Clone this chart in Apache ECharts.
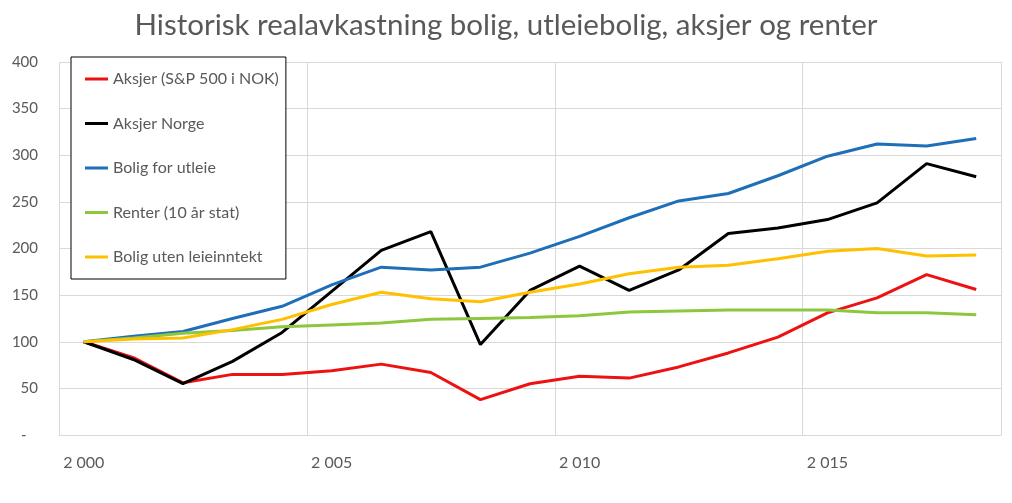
<!DOCTYPE html>
<html>
<head>
<meta charset="utf-8">
<script src="https://cdn.jsdelivr.net/npm/echarts@6/dist/echarts.min.js"></script>
<style>
  html, body { margin: 0; padding: 0; background: #fff; }
  #chart { width: 1012px; height: 503px; }
</style>
</head>
<body>
<div id="chart"></div>
<script>
const years = [2000, 2001, 2002, 2003, 2004, 2005, 2006, 2007, 2008, 2009,
  2010, 2011, 2012, 2013, 2014, 2015, 2016, 2017, 2018]
const aksjerSP = [100, 83, 56, 65, 65, 69, 76, 67, 38, 55, 63, 61, 73, 88, 105, 131, 147, 172, 156]
const aksjerNorge = [100, 81, 55, 79, 110, 154, 198, 218, 97, 155, 181, 155, 177, 216, 222, 231, 249, 291, 277]
const boligUtleie = [100, 106, 111, 125, 138, 161, 180, 177, 180, 195, 213, 233, 251, 259, 278, 299, 312, 310, 318]
const renter = [100, 104, 109, 112, 116, 118, 120, 124, 125, 126, 128, 132, 133, 134, 134, 134, 131, 131, 129]
const boligUten = [100, 103, 104, 113, 124, 140, 153, 146, 143, 153, 162, 173, 180, 182, 189, 197, 200, 192, 193]
const yTicks = [0, 50, 100, 150, 200, 250, 300, 350, 400]

const font = 'Lato, "Open Sans", sans-serif'
const textColor = '#595959'
const gridColor = '#d9d9d9'

const seriesList = [
  { name: 'Aksjer (S&P 500 i NOK)', data: aksjerSP, color: '#ee1111' },
  { name: 'Aksjer Norge', data: aksjerNorge, color: '#000000' },
  { name: 'Bolig for utleie', data: boligUtleie, color: '#1f6fb8' },
  { name: 'Renter (10 år stat)', data: renter, color: '#8dc63f' },
  { name: 'Bolig uten leieinntekt', data: boligUten, color: '#ffc000' }
]

const chart = echarts.init(document.getElementById('chart'))
chart.setOption({
  animation: false,
  textStyle: { fontFamily: font },
  title: {
    text: 'Historisk realavkastning bolig, utleiebolig, aksjer og renter',
    left: 'center',
    top: 5,
    textStyle: {
      fontFamily: font,
      fontSize: 29.5,
      fontWeight: 'normal',
      color: textColor
    }
  },
  legend: {
    orient: 'vertical',
    left: 71,
    top: 57,
    padding: [14, 7, 14, 14],
    itemGap: 28.5,
    itemWidth: 23,
    itemHeight: 3,
    icon: 'rect',
    borderColor: '#000',
    borderWidth: 1,
    backgroundColor: '#fff',
    textStyle: { fontFamily: font, fontSize: 16, color: textColor },
    data: seriesList.map(s => s.name)
  },
  grid: { left: 59, right: 11, top: 62, bottom: 68 },
  xAxis: [{
    type: 'category',
    boundaryGap: true,
    data: years.map(y => String(y)),
    axisLine: { lineStyle: { color: gridColor, width: 1 } },
    axisTick: { show: false },
    axisLabel: {
      interval: 4,
      margin: 20,
      fontSize: 16,
      color: textColor,
      formatter: v => v.slice(0, 1) + ' ' + v.slice(1)
    },
    splitLine: { show: false }
  }, {
    // helper axis only for the vertical gridlines (every 5th year boundary)
    type: 'value',
    position: 'bottom',
    min: 0,
    max: years.length,
    interval: 5,
    axisLine: { show: false },
    axisTick: { show: false },
    axisLabel: { show: false },
    splitLine: { show: true, lineStyle: { color: gridColor, width: 1 } }
  }],
  yAxis: {
    type: 'value',
    min: yTicks[0],
    max: yTicks[yTicks.length - 1],
    interval: 50,
    axisLine: { show: false },
    axisTick: { show: false },
    axisLabel: {
      margin: 21,
      fontSize: 15,
      color: textColor,
      formatter: v => (v === 0 ? '-   ' : String(v))
    },
    splitLine: { lineStyle: { color: gridColor, width: 1 } }
  },
  series: seriesList.map(s => ({
    name: s.name,
    type: 'line',
    xAxisIndex: 0,
    data: s.data,
    showSymbol: false,
    symbol: 'none',
    color: s.color,
    lineStyle: { width: 3, color: s.color }
  }))
})
</script>
</body>
</html>
